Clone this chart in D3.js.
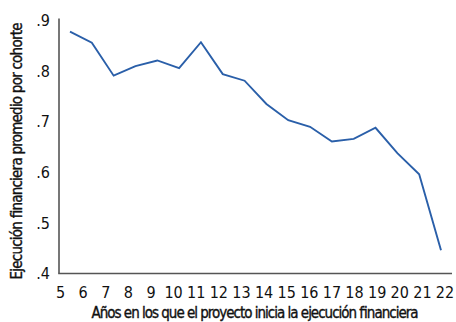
<!DOCTYPE html>
<html>
<head>
<meta charset="utf-8">
<script src="https://cdn.jsdelivr.net/npm/d3@7"></script>
<style>
  body { margin: 0; background: #fff; }
  text { font-family: "Liberation Sans Narrow", "DejaVu Sans Condensed", sans-serif; fill: #111; }
</style>
</head>
<body>
<svg id="chart" width="456" height="322"></svg>
<script>
// años de inicio de la ejecución (cohortes)
const years = [5, 6, 7, 8, 9, 10, 11, 12, 13, 14, 15, 16, 17, 18, 19, 20, 21, 22];
const execution = [0.878, 0.856, 0.791, 0.810, 0.821, 0.806, 0.857, 0.794, 0.781,
  0.735, 0.703, 0.690, 0.661, 0.666, 0.688, 0.638, 0.596, 0.446];
const yTicks = [0.4, 0.5, 0.6, 0.7, 0.8, 0.9];
const xTicks = years;

const lineColor = "#2a5fa9";
const axisColor = "#555";

const svg = d3.select("#chart");

const x = d3.scaleLinear().domain([5, 22]).range([70, 441]);
// the tick labels are spread a little wider than the line points
const xLabel = d3.scaleLinear().domain([5, 22]).range([60.5, 445]);
const y = d3.scaleLinear().domain([0.4, 0.9]).range([273.5, 20.5]);

// axes
svg.append("line")
  .attr("x1", 59).attr("x2", 59)
  .attr("y1", y(0.9) - 2).attr("y2", 273.5)
  .attr("stroke", axisColor).attr("stroke-width", 1.6);

svg.append("line")
  .attr("x1", 58.2).attr("x2", 452)
  .attr("y1", 273.5).attr("y2", 273.5)
  .attr("stroke", axisColor).attr("stroke-width", 1.6);

svg.append("g")
  .selectAll("text")
  .data(yTicks)
  .join("text")
  .attr("x", 50)
  .attr("y", d => y(d))
  .attr("dy", "0.35em")
  .attr("text-anchor", "end")
  .style("font-size", "16px")
  .text(d => d3.format(".1f")(d).replace(/^0/, ""));

svg.append("g")
  .selectAll("text")
  .data(xTicks)
  .join("text")
  .attr("x", d => xLabel(d))
  .attr("y", 292)
  .attr("dy", "0.35em")
  .attr("text-anchor", "middle")
  .style("font-size", "16px")
  .text(d => d);

// axis titles (medium weight: thin stroke on regular)
svg.append("text")
  .attr("x", 255)
  .attr("y", 313)
  .attr("dy", "0.35em")
  .attr("text-anchor", "middle")
  .attr("textLength", 327)
  .style("font-size", "15px")
  .style("stroke", "#111")
  .style("stroke-width", 0.35)
  .text("Años en los que el proyecto inicia la ejecución financiera");

svg.append("text")
  .attr("transform", "translate(17,151) rotate(-90)")
  .attr("dy", "0.35em")
  .attr("text-anchor", "middle")
  .attr("textLength", 257)
  .style("font-size", "15px")
  .style("stroke", "#111")
  .style("stroke-width", 0.35)
  .text("Ejecución financiera promedio por cohorte");

// line
const line = d3.line()
  .x((d, i) => x(years[i]))
  .y(d => y(d));

svg.append("path")
  .datum(execution)
  .attr("d", line)
  .attr("fill", "none")
  .attr("stroke", lineColor)
  .attr("stroke-width", 1.9)
  .attr("stroke-linejoin", "miter");
</script>
</body>
</html>
